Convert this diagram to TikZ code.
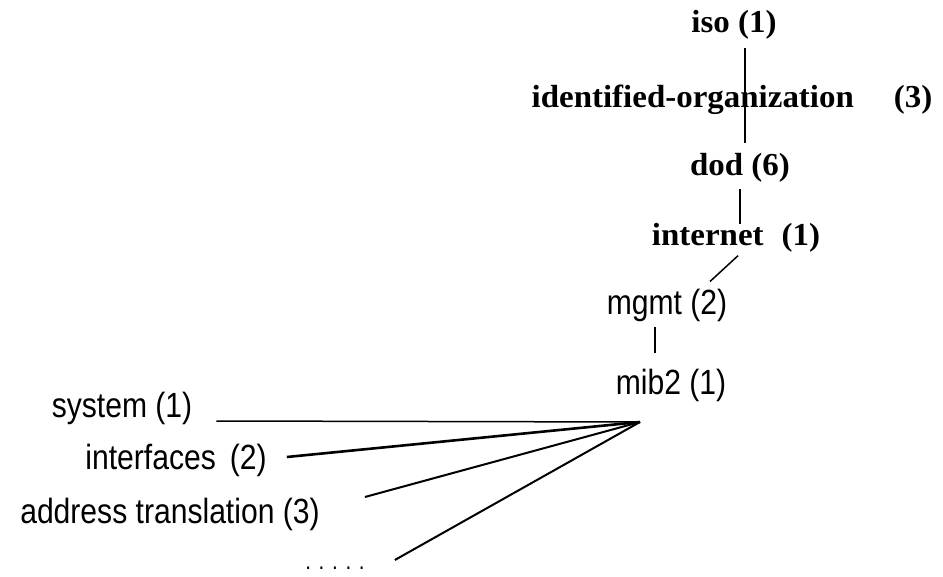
\documentclass[tikz,border=0pt]{standalone}
\usepackage{fontspec}
\setmainfont{Liberation Serif}
\newfontfamily\plainsans[FakeStretch=0.86]{Liberation Sans}
\newfontfamily\boldwide[FakeStretch=1.03]{Liberation Serif Bold}
\begin{document}
\begin{tikzpicture}[x=1pt,y=-1pt,
  top/.style={inner sep=0pt,font=\boldwide\fontsize{32}{34}\selectfont},
  low/.style={inner sep=0pt,font=\plainsans\fontsize{35}{37}\selectfont},
  link/.style={line width=1.5pt}]
\useasboundingbox (0,0) rectangle (943,577);
\fill[white] (0,0) rectangle (943,577);
\node[top] (iso) at (734,25) {iso (1)};
\node[top] (idorg) at (732,100) {identified-organization\hspace{40pt}(3)};
\node[top] (dod) at (740,168) {dod (6)};
\node[top] (internet) at (736,238) {internet\hspace{18pt}(1)};
\node[low] (mgmt) at (667,305) {mgmt (2)};
\node[low] (mib2) at (671,385) {mib2 (1)};
\node[low] (system) at (122,408) {system (1)};
\node[low] (interfaces) at (176,460) {interfaces\hspace{14pt}(2)};
\node[low] (addr) at (170,514) {address translation (3)};
\node[low,font=\plainsans\fontsize{24}{26}\selectfont] (dots) at (335,568) {. . . . .};
\coordinate (hub) at (640,422);
\draw[link] ([shift={(11,8)}]iso.south) -- ([shift={(5,-10)}]dod.north);
\draw[link] ([shift={(0,6)}]dod.south) -- ([shift={(4,1)}]internet.north);
\draw[link] ([shift={(2,3)}]internet.south) -- ([shift={(43,-7)}]mgmt.north);
\draw[link] ([shift={(-12,5)}]mgmt.south) -- ([shift={(-16,-15)}]mib2.north);
\draw[link] (system.east) ++(24,13) -- (hub);
\draw[link,line width=2.6pt] (interfaces.east) ++(20,-3) -- (hub);
\draw[link,line width=2pt] (addr.east) ++(45,-17) -- (hub);
\draw[link,line width=2pt] (dots.east) ++(30,-8) -- (hub);
\end{tikzpicture}
\end{document}
